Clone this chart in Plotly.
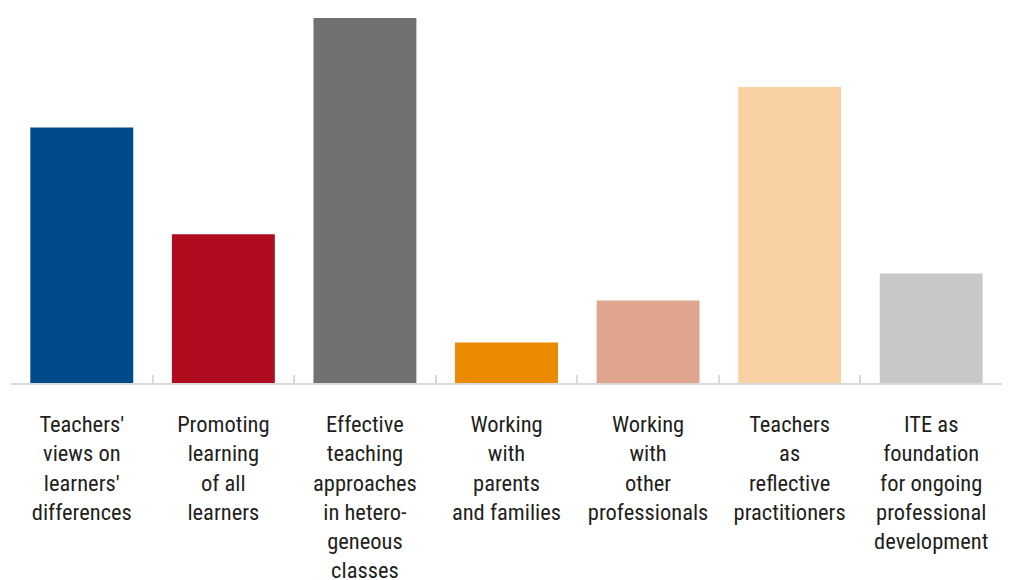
import plotly.graph_objects as go

categories = [
    "Teachers'<br>views on<br>learners'<br>differences",
    "Promoting<br>learning<br>of all<br>learners",
    "Effective<br>teaching<br>approaches<br>in hetero-<br>geneous<br>classes",
    "Working<br>with<br>parents<br>and families",
    "Working<br>with<br>other<br>professionals",
    "Teachers<br>as<br>reflective<br>practitioners",
    "ITE as<br>foundation<br>for ongoing<br>professional<br>development",
]
values = [18.9, 11.0, 27.0, 3.0, 6.1, 21.9, 8.1]
colors = ["#00498a", "#b00b1e", "#707173", "#ea8a00", "#e0a58d", "#f9d1a2", "#c7c8ca"]

fig = go.Figure(go.Bar(
    x=categories,
    y=values,
    marker=dict(color=colors, line=dict(width=0)),
    hoverinfo="skip",
))

# page body adds an 8px offset; margins compensate
fig.update_layout(
    width=1024, height=580,
    margin=dict(l=3, r=30, t=10, b=204.5, pad=0),
    paper_bgcolor="white", plot_bgcolor="white",
    bargap=0.273,
    showlegend=False,
    font=dict(family="Liberation Sans Narrow, Roboto Condensed, Lato, sans-serif", size=22.5, color="#231f20"),
)
fig.update_xaxes(
    type="category",
    automargin=False,
    showline=True, linecolor="#d9d9d9", linewidth=2,
    ticks="inside", ticklen=8, tickwidth=2, tickcolor="#d9d9d9",
    tickson="boundaries",
    showgrid=False, zeroline=False,
    ticklabelstandoff=20,
)
fig.update_yaxes(visible=False, range=[0, 27], automargin=False)

fig.write_html("out.html")
